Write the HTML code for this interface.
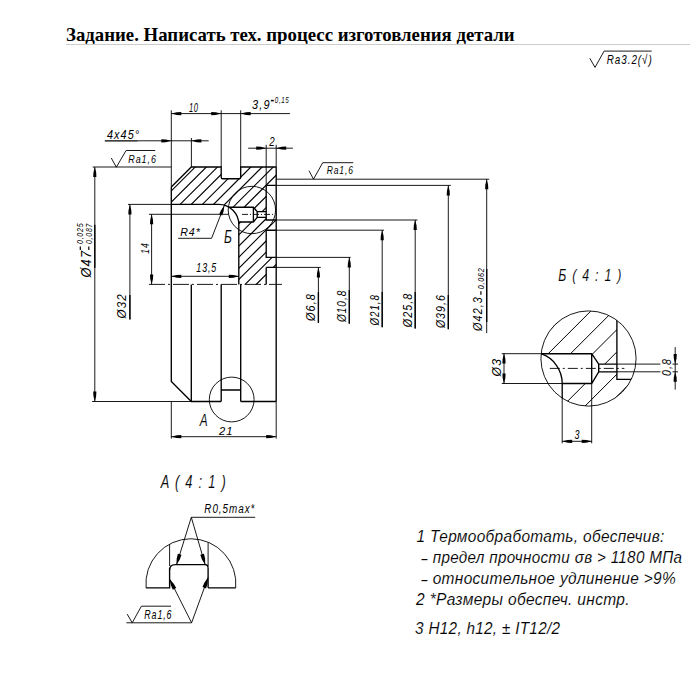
<!DOCTYPE html>
<html><head><meta charset="utf-8"><style>
html,body{margin:0;padding:0;background:#fff;width:690px;height:675px;overflow:hidden}
.t{position:absolute;left:66px;top:24.3px;font-family:"Liberation Serif",serif;font-weight:bold;font-size:18.8px;white-space:nowrap;color:#000}
.bl{position:absolute;left:66px;top:44px;width:624px;height:1px;background:#ccc}
svg{position:absolute;left:0;top:0}
svg text{font-family:"Liberation Sans",sans-serif;font-style:italic;fill:#000} svg text.big{stroke:#fff;stroke-width:0.12px}
</style></head><body>
<div class="t">Задание. Написать тех. процесс изготовления детали</div>
<div class="bl"></div>
<svg width="690" height="675" viewBox="0 0 690 675">
<defs><mask id="m1"><path d="M171.3,187 L191.3,167.0 L221.2,167.0 L221.2,178.7 L240.7,178.7 L240.7,167.0 L276.2,167.0 L276.2,185.4 L266.2,185.4 L266.2,220 L276.2,220 L276.2,230.2 L266.2,230.2 L266.2,257.4 L276.2,257.4 L276.2,267.4 L266.2,267.4 L266.2,284.4 L238.8,284.4 L238.8,224.4 A20,20 0 0 0 218.8,204.4 L171.3,204.4 Z" fill="#fff"/><path d="M220,207.2 L253.4,207.2 L257.2,211.6 L266.2,211.6 L266.2,217.3 L257.2,217.3 L253.4,222 L220,222 Z" fill="#000"/></mask></defs>
<path d="M-361.5,300 L-161.5,100 M-350.4,300 L-150.4,100 M-339.2,300 L-139.2,100 M-328.1,300 L-128.1,100 M-316.9,300 L-116.9,100 M-305.8,300 L-105.8,100 M-294.6,300 L-94.6,100 M-283.4,300 L-83.4,100 M-272.3,300 L-72.3,100 M-261.2,300 L-61.2,100 M-250.0,300 L-50.0,100 M-238.9,300 L-38.9,100 M-227.7,300 L-27.7,100 M-216.6,300 L-16.6,100 M-205.4,300 L-5.4,100 M-194.2,300 L5.8,100 M-183.1,300 L16.9,100 M-171.9,300 L28.1,100 M-160.8,300 L39.2,100 M-149.7,300 L50.3,100 M-138.5,300 L61.5,100 M-127.3,300 L72.7,100 M-116.2,300 L83.8,100 M-105.1,300 L94.9,100 M-93.9,300 L106.1,100 M-82.8,300 L117.2,100 M-71.6,300 L128.4,100 M-60.5,300 L139.5,100 M-49.3,300 L150.7,100 M-38.1,300 L161.9,100 M-27.0,300 L173.0,100 M-15.9,300 L184.1,100 M-4.7,300 L195.3,100 M6.4,300 L206.4,100 M17.6,300 L217.6,100 M28.8,300 L228.8,100 M39.9,300 L239.9,100 M51.1,300 L251.1,100 M62.2,300 L262.2,100 M73.4,300 L273.4,100 M84.5,300 L284.5,100 M95.6,300 L295.6,100 M106.8,300 L306.8,100 M117.9,300 L317.9,100 M129.1,300 L329.1,100 M140.2,300 L340.2,100 M151.4,300 L351.4,100 M162.6,300 L362.6,100 M173.7,300 L373.7,100 M184.9,300 L384.9,100 M196.0,300 L396.0,100 M207.1,300 L407.1,100 M218.3,300 L418.3,100 M229.5,300 L429.5,100 M240.6,300 L440.6,100 M251.8,300 L451.8,100 M262.9,300 L462.9,100 M274.0,300 L474.0,100 M285.2,300 L485.2,100 M296.4,300 L496.4,100 M307.5,300 L507.5,100 M318.6,300 L518.6,100 M329.8,300 L529.8,100 M341.0,300 L541.0,100 M352.1,300 L552.1,100 M363.2,300 L563.2,100 M374.4,300 L574.4,100 M385.5,300 L585.5,100 M396.7,300 L596.7,100 M407.9,300 L607.9,100 M419.0,300 L619.0,100 M430.2,300 L630.2,100 M441.3,300 L641.3,100 M452.5,300 L652.5,100 M463.6,300 L663.6,100 M474.8,300 L674.8,100 M485.9,300 L685.9,100 M497.0,300 L697.0,100 M508.2,300 L708.2,100 M519.4,300 L719.4,100" stroke="#000" stroke-width="1.1" fill="none" mask="url(#m1)"/>
<path d="M171.3,187 L191.3,167.0 L221.2,167.0 L221.2,177.2 Q221.2,178.7 222.7,178.7 L239.2,178.7 Q240.7,178.7 240.7,177.2 L240.7,167.0 L276.2,167.0" fill="none" stroke="#000" stroke-width="1.35" />
<path d="M276.2,167.0 L276.2,401.5" fill="none" stroke="#000" stroke-width="1.35" />
<path d="M266.2,185.4 L276.2,185.4 M266.2,185.4 L266.2,220 L276.2,220 M266.2,230.2 L276.2,230.2 M266.2,230.2 L266.2,257.4 L276.2,257.4 M266.2,267.4 L276.2,267.4 M266.2,267.4 L266.2,284.4" fill="none" stroke="#000" stroke-width="1.35" />
<path d="M171.3,187 L171.3,381.5 L191.3,401.5 L221.2,401.5 M240.7,401.5 L276.2,401.5" fill="none" stroke="#000" stroke-width="1.35" />
<path d="M171.3,204.4 L218.8,204.4 A20,20 0 0 1 238.8,224.4 L238.8,284.4" fill="none" stroke="#000" stroke-width="1.35" />
<path d="M228.9,207.2 L253.4,207.2 L257.2,211.6 L266.2,211.6 M238.3,222 L253.4,222 L257.2,217.3 L266.2,217.3 M253.4,207.2 L253.4,222 M257.2,211.6 L257.2,217.3" fill="none" stroke="#000" stroke-width="1.35" />
<path d="M191.3,284.4 L191.3,401.5 M221.2,284.4 L221.2,401.5 M240.7,284.4 L240.7,401.5 M221.2,390 L240.7,390" fill="none" stroke="#000" stroke-width="1.35" />
<line x1="149.0" y1="284.4" x2="282.0" y2="284.4" stroke="#000" stroke-width="0.9" stroke-dasharray="16,3,2,3"/>
<line x1="242.0" y1="214.4" x2="274.0" y2="214.4" stroke="#000" stroke-width="0.9" stroke-dasharray="6,2,1,2"/>
<circle cx="251.9" cy="210" r="23.7" fill="none" stroke="#000" stroke-width="0.9"/>
<circle cx="231.7" cy="399.5" r="22.4" fill="none" stroke="#000" stroke-width="0.9"/>
<line x1="171.3" y1="110.3" x2="171.3" y2="187.0" stroke="#000" stroke-width="0.9" />
<line x1="171.3" y1="401.5" x2="171.3" y2="438.6" stroke="#000" stroke-width="0.9" />
<line x1="221.2" y1="110.3" x2="221.2" y2="167.0" stroke="#000" stroke-width="0.9" />
<line x1="240.7" y1="110.3" x2="240.7" y2="167.0" stroke="#000" stroke-width="0.9" />
<line x1="191.4" y1="138.0" x2="191.4" y2="167.0" stroke="#000" stroke-width="0.9" />
<line x1="266.2" y1="144.8" x2="266.2" y2="185.4" stroke="#000" stroke-width="0.9" />
<line x1="276.2" y1="144.8" x2="276.2" y2="167.0" stroke="#000" stroke-width="0.9" />
<line x1="276.2" y1="401.5" x2="276.2" y2="438.6" stroke="#000" stroke-width="0.9" />
<line x1="171.3" y1="113.6" x2="289.9" y2="113.6" stroke="#000" stroke-width="0.9" />
<path d="M171.30,113.60 L176.80,114.96 L181.30,115.20 L181.30,112.00 L176.80,112.24 Z" fill="#000"/>
<path d="M221.20,113.60 L215.70,112.24 L211.20,112.00 L211.20,115.20 L215.70,114.96 Z" fill="#000"/>
<path d="M240.70,113.60 L246.20,114.96 L250.70,115.20 L250.70,112.00 L246.20,112.24 Z" fill="#000"/>
<text x="188.91" y="111.5" font-size="12.1" letter-spacing="1.21" textLength="9.88" lengthAdjust="spacingAndGlyphs" >10</text>
<text x="252.06" y="108.5" font-size="13.4" letter-spacing="1.34" textLength="18.52" lengthAdjust="spacingAndGlyphs" >3,9</text>
<text x="274.84" y="103.3" font-size="9.0" letter-spacing="0.90" textLength="14.52" lengthAdjust="spacingAndGlyphs" >0,15</text>
<line x1="270.9" y1="100.6" x2="273.8" y2="100.6" stroke="#000" stroke-width="1.5" />
<line x1="104.8" y1="140.8" x2="137.8" y2="140.8" stroke="#000" stroke-width="1.3" />
<line x1="137.8" y1="140.8" x2="208.7" y2="140.8" stroke="#000" stroke-width="0.9" />
<path d="M171.30,140.80 L165.80,139.44 L161.30,139.20 L161.30,142.40 L165.80,142.16 Z" fill="#000"/>
<path d="M191.40,140.80 L196.90,142.16 L201.40,142.40 L201.40,139.20 L196.90,139.44 Z" fill="#000"/>
<text x="106.93" y="138.5" font-size="11.9" letter-spacing="1.19" textLength="33.33" lengthAdjust="spacingAndGlyphs" >4x45°</text>
<line x1="248.2" y1="148.2" x2="292.9" y2="148.2" stroke="#000" stroke-width="0.9" />
<path d="M266.20,148.20 L260.70,146.84 L256.20,146.60 L256.20,149.80 L260.70,149.56 Z" fill="#000"/>
<path d="M276.20,148.20 L281.70,149.56 L286.20,149.80 L286.20,146.60 L281.70,146.84 Z" fill="#000"/>
<text x="269.32" y="145.8" font-size="12.0" letter-spacing="1.20" textLength="6.40" lengthAdjust="spacingAndGlyphs" >2</text>
<path d="M111.3,158 L116.3,167.2 L126.1,150.5 L155.2,150.5" fill="none" stroke="#000" stroke-width="0.9" />
<line x1="92.6" y1="167.0" x2="171.3" y2="167.0" stroke="#000" stroke-width="0.9" />
<text x="128.34" y="162.6" font-size="11.4" letter-spacing="1.14" textLength="28.48" lengthAdjust="spacingAndGlyphs" >Ra1,6</text>
<path d="M309,170.7 L313.5,179.2 L322.7,162.7 L353.3,162.7" fill="none" stroke="#000" stroke-width="0.9" />
<text x="326.73" y="173.9" font-size="11.7" letter-spacing="1.17" textLength="27.02" lengthAdjust="spacingAndGlyphs" >Ra1,6</text>
<line x1="276.2" y1="179.2" x2="489.2" y2="179.2" stroke="#000" stroke-width="0.9" />
<line x1="486.7" y1="179.2" x2="486.7" y2="333.1" stroke="#000" stroke-width="0.9" />
<path d="M486.70,179.20 L485.34,184.70 L485.10,189.20 L488.30,189.20 L488.06,184.70 Z" fill="#000"/>
<line x1="276.2" y1="185.4" x2="450.8" y2="185.4" stroke="#000" stroke-width="0.9" />
<line x1="448.3" y1="185.4" x2="448.3" y2="329.2" stroke="#000" stroke-width="0.9" />
<path d="M448.30,185.40 L446.94,190.90 L446.70,195.40 L449.90,195.40 L449.66,190.90 Z" fill="#000"/>
<line x1="276.2" y1="220.0" x2="417.5" y2="220.0" stroke="#000" stroke-width="0.9" />
<line x1="415.2" y1="220.0" x2="415.2" y2="328.5" stroke="#000" stroke-width="0.9" />
<path d="M415.20,220.00 L413.84,225.50 L413.60,230.00 L416.80,230.00 L416.56,225.50 Z" fill="#000"/>
<line x1="276.2" y1="230.2" x2="384.0" y2="230.2" stroke="#000" stroke-width="0.9" />
<line x1="382.2" y1="230.2" x2="382.2" y2="327.2" stroke="#000" stroke-width="0.9" />
<path d="M382.20,230.20 L380.84,235.70 L380.60,240.20 L383.80,240.20 L383.56,235.70 Z" fill="#000"/>
<line x1="276.2" y1="257.4" x2="350.7" y2="257.4" stroke="#000" stroke-width="0.9" />
<line x1="349.3" y1="257.4" x2="349.3" y2="323.7" stroke="#000" stroke-width="0.9" />
<path d="M349.30,257.40 L347.94,262.90 L347.70,267.40 L350.90,267.40 L350.66,262.90 Z" fill="#000"/>
<line x1="276.2" y1="267.4" x2="320.8" y2="267.4" stroke="#000" stroke-width="0.9" />
<line x1="318.4" y1="267.4" x2="318.4" y2="322.9" stroke="#000" stroke-width="0.9" />
<path d="M318.40,267.40 L317.04,272.90 L316.80,277.40 L320.00,277.40 L319.76,272.90 Z" fill="#000"/>
<text transform="translate(315.3,321.11) rotate(-90)" font-size="12.9" letter-spacing="1.29" textLength="28.11" lengthAdjust="spacingAndGlyphs" >Ø6,8</text>
<text transform="translate(346.0,322.11) rotate(-90)" font-size="12.9" letter-spacing="1.29" textLength="32.47" lengthAdjust="spacingAndGlyphs" >Ø10,8</text>
<text transform="translate(379.0,325.51) rotate(-90)" font-size="12.9" letter-spacing="1.29" textLength="31.45" lengthAdjust="spacingAndGlyphs" >Ø21,8</text>
<text transform="translate(412.0,327.31) rotate(-90)" font-size="12.9" letter-spacing="1.29" textLength="34.72" lengthAdjust="spacingAndGlyphs" >Ø25,8</text>
<text transform="translate(445.0,328.11) rotate(-90)" font-size="12.9" letter-spacing="1.29" textLength="33.90" lengthAdjust="spacingAndGlyphs" >Ø39,6</text>
<text transform="translate(481.6,330.91) rotate(-90)" font-size="12.9" letter-spacing="1.29" textLength="34.87" lengthAdjust="spacingAndGlyphs" >Ø42,3</text>
<line x1="318.4" y1="292.0" x2="318.4" y2="322.9" stroke="#000" stroke-width="1.35" />
<line x1="349.3" y1="290.0" x2="349.3" y2="323.7" stroke="#000" stroke-width="1.35" />
<line x1="382.2" y1="292.0" x2="382.2" y2="327.2" stroke="#000" stroke-width="1.35" />
<line x1="415.2" y1="292.0" x2="415.2" y2="328.5" stroke="#000" stroke-width="1.35" />
<line x1="448.3" y1="295.0" x2="448.3" y2="329.2" stroke="#000" stroke-width="1.35" />
<line x1="486.7" y1="269.0" x2="486.7" y2="322.0" stroke="#000" stroke-width="1.35" />
<text transform="translate(484.2,289.19) rotate(-90)" font-size="9.7" letter-spacing="0.97" textLength="21.56" lengthAdjust="spacingAndGlyphs" >0,062</text>
<line x1="480.9" y1="291.2" x2="480.9" y2="294.8" stroke="#000" stroke-width="1.2" />
<line x1="92.0" y1="401.5" x2="191.3" y2="401.5" stroke="#000" stroke-width="0.9" />
<line x1="94.8" y1="167.0" x2="94.8" y2="401.5" stroke="#000" stroke-width="0.9" />
<path d="M94.80,167.00 L93.44,172.50 L93.20,177.00 L96.40,177.00 L96.16,172.50 Z" fill="#000"/>
<path d="M94.80,401.50 L96.16,396.00 L96.40,391.50 L93.20,391.50 L93.44,396.00 Z" fill="#000"/>
<text transform="translate(91.0,277.60) rotate(-90)" font-size="15.0" letter-spacing="1.50" textLength="27.89" lengthAdjust="spacingAndGlyphs" >Ø47</text>
<line x1="94.8" y1="224.8" x2="94.8" y2="268.0" stroke="#000" stroke-width="1.35" />
<text transform="translate(83.1,243.99) rotate(-90)" font-size="9.7" letter-spacing="0.97" textLength="21.28" lengthAdjust="spacingAndGlyphs" >0,025</text>
<text transform="translate(92.0,243.99) rotate(-90)" font-size="9.7" letter-spacing="0.97" textLength="21.09" lengthAdjust="spacingAndGlyphs" >0,087</text>
<line x1="80.3" y1="246.4" x2="80.3" y2="250.0" stroke="#000" stroke-width="1.2" />
<line x1="88.8" y1="246.4" x2="88.8" y2="250.0" stroke="#000" stroke-width="1.2" />
<line x1="128.0" y1="204.4" x2="171.3" y2="204.4" stroke="#000" stroke-width="0.9" />
<line x1="129.9" y1="204.4" x2="129.9" y2="319.4" stroke="#000" stroke-width="0.9" />
<path d="M129.90,204.40 L128.54,209.90 L128.30,214.40 L131.50,214.40 L131.26,209.90 Z" fill="#000"/>
<text transform="translate(125.8,318.54) rotate(-90)" font-size="13.6" letter-spacing="1.36" textLength="25.43" lengthAdjust="spacingAndGlyphs" >Ø32</text>
<line x1="129.9" y1="295.0" x2="129.9" y2="319.4" stroke="#000" stroke-width="1.35" />
<line x1="149.0" y1="214.3" x2="228.9" y2="214.3" stroke="#000" stroke-width="0.9" />
<line x1="151.6" y1="214.3" x2="151.6" y2="284.4" stroke="#000" stroke-width="0.9" />
<path d="M151.60,214.30 L150.24,219.80 L150.00,224.30 L153.20,224.30 L152.96,219.80 Z" fill="#000"/>
<path d="M151.60,284.40 L152.96,278.90 L153.20,274.40 L150.00,274.40 L150.24,278.90 Z" fill="#000"/>
<text transform="translate(149.4,253.67) rotate(-90)" font-size="11.7" letter-spacing="1.17" textLength="11.18" lengthAdjust="spacingAndGlyphs" >14</text>
<line x1="171.3" y1="276.3" x2="238.8" y2="276.3" stroke="#000" stroke-width="0.9" />
<path d="M171.30,276.30 L176.80,277.66 L181.30,277.90 L181.30,274.70 L176.80,274.94 Z" fill="#000"/>
<path d="M238.80,276.30 L233.30,274.94 L228.80,274.70 L228.80,277.90 L233.30,277.66 Z" fill="#000"/>
<text x="196.31" y="272.2" font-size="12.3" letter-spacing="1.23" textLength="20.86" lengthAdjust="spacingAndGlyphs" >13,5</text>
<text x="180.14" y="235.7" font-size="11.6" letter-spacing="1.16" textLength="20.92" lengthAdjust="spacingAndGlyphs" >R4*</text>
<path d="M178.1,238.3 L211.6,238.3 L224.3,205.6" fill="none" stroke="#000" stroke-width="0.9" />
<path d="M224.30,205.60 L221.03,210.23 L219.18,214.34 L222.16,215.50 L223.57,211.22 Z" fill="#000"/>
<text class="big" x="224.08" y="243.3" font-size="18.0" letter-spacing="1.80" textLength="9.10" lengthAdjust="spacingAndGlyphs" >Б</text>
<line x1="171.3" y1="436.7" x2="276.2" y2="436.7" stroke="#000" stroke-width="0.9" />
<path d="M171.30,436.70 L176.80,438.06 L181.30,438.30 L181.30,435.10 L176.80,435.34 Z" fill="#000"/>
<path d="M276.20,436.70 L270.70,435.34 L266.20,435.10 L266.20,438.30 L270.70,438.06 Z" fill="#000"/>
<text x="218.93" y="434.5" font-size="11.7" letter-spacing="1.17" textLength="14.68" lengthAdjust="spacingAndGlyphs" >21</text>
<text class="big" x="199.77" y="425.8" font-size="15.7" letter-spacing="1.57" textLength="9.10" lengthAdjust="spacingAndGlyphs" >A</text>
<path d="M589.8,58.3 L595,67.4 L604.1,51.1 L651.7,51.1" fill="none" stroke="#000" stroke-width="0.9" />
<text x="606.69" y="64.1" font-size="12.9" letter-spacing="1.29" textLength="46.07" lengthAdjust="spacingAndGlyphs" >Ra3.2(√)</text>
<text class="big" x="558.31" y="281.4" font-size="17.1" letter-spacing="1.71" textLength="64.32" lengthAdjust="spacingAndGlyphs" >Б ( 4 : 1 )</text>
<defs><clipPath id="cb"><circle cx="588.5" cy="358.5" r="47.6"/></clipPath><mask id="mb"><rect x="480" y="300" width="200" height="120" fill="#fff"/><path d="M530,353.7 L591.7,353.7 L598.7,364.1 L630,364.1 L630,371.8 L598.7,371.8 L591.7,383.5 L562.2,383.5 L562.2,420 L530,420 Z" fill="#000"/><path d="M616.9,300 L640,300 L640,379.3 L616.9,379.3 Z" fill="#000"/></mask></defs>
<g clip-path="url(#cb)"><path d="M348.1,420 L468.1,300 M370.4,420 L490.4,300 M392.7,420 L512.7,300 M415.0,420 L535.0,300 M437.3,420 L557.3,300 M459.6,420 L579.6,300 M481.9,420 L601.9,300 M504.2,420 L624.2,300 M526.5,420 L646.5,300 M548.8,420 L668.8,300 M571.1,420 L691.1,300 M593.4,420 L713.4,300 M615.7,420 L735.7,300 M638.0,420 L758.0,300" stroke="#000" stroke-width="1" fill="none" mask="url(#mb)"/>
<path d="M541.2,353.7 L591.7,353.7 L598.7,364.1 L616.9,364.1 M562.2,383.5 L591.7,383.5 L598.7,371.8 L616.9,371.8 M591.7,353.7 L591.7,383.5 M598.7,364.1 L598.7,371.8" fill="none" stroke="#000" stroke-width="1.35" />
<path d="M541.2,353.7 A31.6,31.6 0 0 1 562.2,383.5 L562.2,410" fill="none" stroke="#000" stroke-width="1.35" />
<path d="M616.9,300 L616.9,379.3 L640,379.3" fill="none" stroke="#000" stroke-width="1.35" />
<line x1="549.8" y1="368.4" x2="624.4" y2="368.4" stroke="#000" stroke-width="0.9" stroke-dasharray="10,3,2,3"/>
</g>
<circle cx="588.5" cy="358.5" r="47.6" fill="none" stroke="#000" stroke-width="0.9"/>
<line x1="501.8" y1="353.7" x2="541.2" y2="353.7" stroke="#000" stroke-width="0.9" />
<line x1="501.8" y1="383.5" x2="562.2" y2="383.5" stroke="#000" stroke-width="0.9" />
<line x1="504.0" y1="353.5" x2="504.0" y2="383.6" stroke="#000" stroke-width="0.9" />
<path d="M504.00,353.50 L502.64,359.00 L502.40,363.50 L505.60,363.50 L505.36,359.00 Z" fill="#000"/>
<path d="M504.00,383.60 L505.36,378.10 L505.60,373.60 L502.40,373.60 L502.64,378.10 Z" fill="#000"/>
<text transform="translate(500.5,376.51) rotate(-90)" font-size="12.7" letter-spacing="1.27" textLength="18.60" lengthAdjust="spacingAndGlyphs" >Ø3</text>
<line x1="562.2" y1="397.0" x2="562.2" y2="443.3" stroke="#000" stroke-width="0.9" />
<line x1="591.7" y1="383.5" x2="591.7" y2="443.3" stroke="#000" stroke-width="0.9" />
<line x1="562.2" y1="441.3" x2="591.7" y2="441.3" stroke="#000" stroke-width="0.9" />
<path d="M562.20,441.30 L567.70,442.66 L572.20,442.90 L572.20,439.70 L567.70,439.94 Z" fill="#000"/>
<path d="M591.70,441.30 L586.20,439.94 L581.70,439.70 L581.70,442.90 L586.20,442.66 Z" fill="#000"/>
<text x="574.49" y="439.3" font-size="12.9" letter-spacing="1.29" textLength="5.90" lengthAdjust="spacingAndGlyphs" >3</text>
<line x1="616.9" y1="364.1" x2="660.4" y2="364.1" stroke="#000" stroke-width="0.9" />
<line x1="616.9" y1="371.8" x2="660.4" y2="371.8" stroke="#000" stroke-width="0.9" />
<line x1="675.2" y1="347.1" x2="675.2" y2="389.6" stroke="#000" stroke-width="0.9" />
<path d="M675.20,364.10 L676.56,358.60 L676.80,354.10 L673.60,354.10 L673.84,358.60 Z" fill="#000"/>
<path d="M675.20,371.80 L673.84,377.30 L673.60,381.80 L676.80,381.80 L676.56,377.30 Z" fill="#000"/>
<line x1="672.5" y1="364.1" x2="678.0" y2="364.1" stroke="#000" stroke-width="0.9" />
<line x1="672.5" y1="371.8" x2="678.0" y2="371.8" stroke="#000" stroke-width="0.9" />
<text transform="translate(670.5,376.09) rotate(-90)" font-size="12.1" letter-spacing="1.21" textLength="17.96" lengthAdjust="spacingAndGlyphs" >0,8</text>
<text class="big" x="160.66" y="487.6" font-size="18.6" letter-spacing="1.86" textLength="66.47" lengthAdjust="spacingAndGlyphs" >A ( 4 : 1 )</text>
<path d="M146.1,588 A45,45 0 1 1 235.7,588" fill="none" stroke="#000" stroke-width="0.9" />
<path d="M146.1,587.8 L169.6,587.8 L169.6,567.8 M208.1,587.8 L235.7,587.8 M208.1,587.8 L208.1,567.8" fill="none" stroke="#000" stroke-width="1.35" />
<line x1="169.6" y1="544.3" x2="169.6" y2="566.0" stroke="#000" stroke-width="0.9" />
<line x1="208.1" y1="542.6" x2="208.1" y2="566.0" stroke="#000" stroke-width="0.9" />
<path d="M169.6,570 Q169.6,564.6 175.2,564.6 L205.2,564.6 Q208.1,564.6 208.1,567.8" fill="none" stroke="#000" stroke-width="1.35" />
<path d="M191.3,517.3 L255.2,517.3" fill="none" stroke="#000" stroke-width="0.9" />
<text x="204.31" y="513.3" font-size="12.3" letter-spacing="1.23" textLength="51.12" lengthAdjust="spacingAndGlyphs" >R0,5max*</text>
<path d="M176.5,564.8 L191.3,517.3 L205.2,564.8" fill="none" stroke="#000" stroke-width="0.9" />
<path d="M176.50,564.80 L179.79,559.47 L181.48,554.81 L177.84,553.72 L176.69,558.54 Z" fill="#000"/>
<path d="M205.20,564.80 L205.07,558.54 L203.96,553.71 L200.31,554.76 L201.96,559.44 Z" fill="#000"/>
<path d="M169.6,579.1 L191.6,622.8 L208.1,577.4" fill="none" stroke="#000" stroke-width="0.9" />
<path d="M169.60,579.10 L170.86,585.23 L172.82,589.79 L176.22,588.09 L173.75,583.79 Z" fill="#000"/>
<path d="M208.10,577.40 L204.49,582.51 L202.50,587.06 L206.06,588.38 L207.52,583.63 Z" fill="#000"/>
<path d="M126.4,622.8 L191.6,622.8" fill="none" stroke="#000" stroke-width="0.9" />
<path d="M127.2,614.1 L132.2,622.8 L141.4,606.2 L171,606.2" fill="none" stroke="#000" stroke-width="0.9" />
<text x="144.30" y="618.8" font-size="12.6" letter-spacing="1.26" textLength="28.08" lengthAdjust="spacingAndGlyphs" >Ra1,6</text>
<text class="big" x="416.51" y="542.3" font-size="17.1" letter-spacing="0.34" textLength="248.21" lengthAdjust="spacingAndGlyphs" >1 Термообработать, обеспечив:</text>
<text class="big" x="421.51" y="563.6" font-size="17.1" letter-spacing="0.34" textLength="6.10" lengthAdjust="spacingAndGlyphs" >–</text>
<text class="big" x="432.71" y="562.6" font-size="17.1" letter-spacing="0.34" textLength="249.62" lengthAdjust="spacingAndGlyphs" >предел прочности σв &gt; 1180 МПа</text>
<text class="big" x="421.51" y="585.1" font-size="17.1" letter-spacing="0.34" textLength="6.10" lengthAdjust="spacingAndGlyphs" >–</text>
<text class="big" x="432.71" y="584.1" font-size="17.1" letter-spacing="0.34" textLength="243.41" lengthAdjust="spacingAndGlyphs" >относительное удлинение &gt;9%</text>
<text class="big" x="416.10" y="605.4" font-size="17.4" letter-spacing="0.35" textLength="213.82" lengthAdjust="spacingAndGlyphs" >2 *Размеры обеспеч. инстр.</text>
<text class="big" x="415.11" y="634.3" font-size="17.1" letter-spacing="0.34" textLength="145.20" lengthAdjust="spacingAndGlyphs" >3 H12, h12, ± IT12/2</text>
</svg>
</body></html>
